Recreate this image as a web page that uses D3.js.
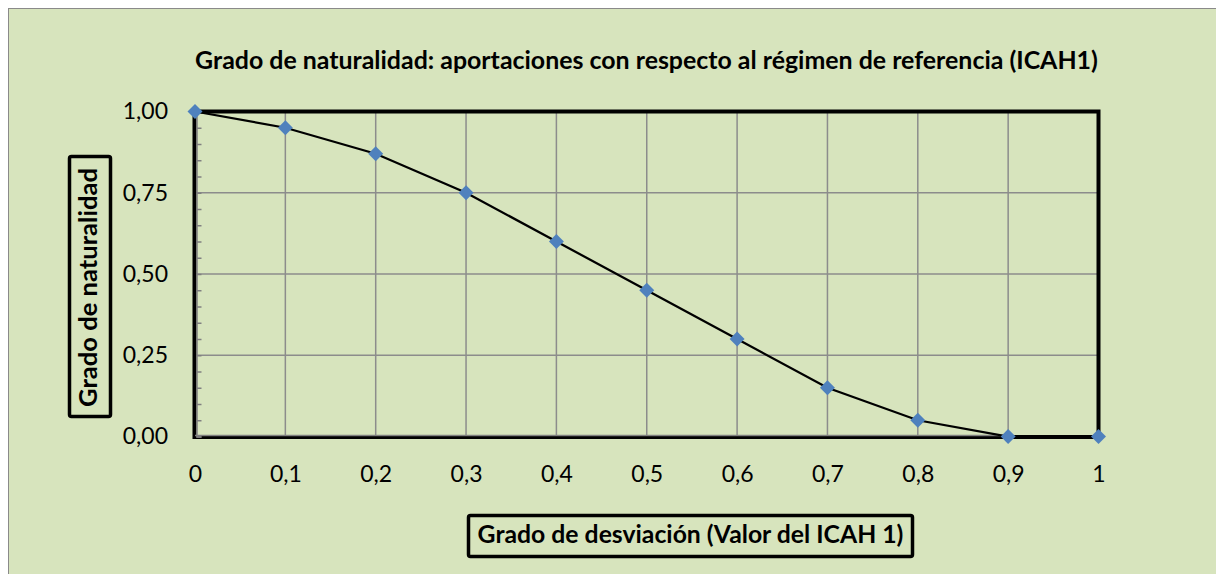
<!DOCTYPE html>
<html>
<head>
<meta charset="utf-8">
<script src="https://cdn.jsdelivr.net/npm/d3@7"></script>
<style>
  body { margin: 0; background: #fff; }
  svg { display: block; font-family: Lato, "Open Sans", sans-serif; }
  .grid line { stroke: #8c8c8c; stroke-width: 1.5; }
  .tick text { fill: #000; }
</style>
</head>
<body>
<svg class="chart"></svg>
<script>
var title = "Grado de naturalidad: aportaciones con respecto al régimen de referencia (ICAH1)";
var xTitle = "Grado de desviación (Valor del ICAH 1)";
var yTitle = "Grado de naturalidad";

var desviacion = [0, 0.1, 0.2, 0.3, 0.4, 0.5, 0.6, 0.7, 0.8, 0.9, 1];
var naturalidad = [1.00, 0.95, 0.87, 0.75, 0.60, 0.45, 0.30, 0.15, 0.05, 0, 0];
var xTicks = [0, 0.1, 0.2, 0.3, 0.4, 0.5, 0.6, 0.7, 0.8, 0.9, 1];
var yTicks = [0, 0.25, 0.5, 0.75, 1];
var yMinor = d3.range(0, 21).map(function(i) { return i * 0.05; });

var width = 1216, height = 574;
var font = "Lato, 'Open Sans', sans-serif";
var comma = function(s) { return s.replace(".", ","); };

var chart = d3.select(".chart").attr("width", width).attr("height", height);

// chart area
chart.append("rect")
    .attr("x", 8.5).attr("y", 8.5)
    .attr("width", width).attr("height", height)
    .attr("fill", "#d7e4bd").attr("stroke", "#8a8a8a").attr("stroke-width", 1);

var x = d3.scaleLinear().domain([0, 1]).range([195, 1098.5]);
var y = d3.scaleLinear().domain([0, 1]).range([436.5, 111.5]);

// fit text to a measured width by changing its font size
function fit(text, w) {
    var fs = parseFloat(text.attr("font-size"));
    var len = text.node().getComputedTextLength();
    text.attr("font-size", (fs * w / len).toFixed(2));
}

// title
chart.append("text")
    .attr("x", 646.5).attr("y", 69)
    .attr("text-anchor", "middle").attr("font-weight", "bold").attr("font-size", 19)
    .text(title)
    .call(fit, 903);

// grid
var grid = chart.append("g").attr("class", "grid");
grid.selectAll(".v")
    .data(xTicks.slice(1, -1))
    .enter().append("line")
    .attr("x1", x).attr("x2", x).attr("y1", y(0)).attr("y2", y(1));
grid.selectAll(".h")
    .data(yTicks.slice(1, -1))
    .enter().append("line")
    .attr("x1", x(0)).attr("x2", x(1)).attr("y1", y).attr("y2", y);

// plot border
chart.append("rect")
    .attr("x", x(0) - 0.5).attr("y", y(1))
    .attr("width", x(1) - x(0) + 0.5).attr("height", y(0) - y(1) + 0.5)
    .attr("fill", "none").attr("stroke", "#000").attr("stroke-width", 4);

// y axis: labels + inner minor ticks
var yAxis = chart.append("g")
    .attr("transform", "translate(" + x(0) + ",0)")
    .call(d3.axisLeft(y).tickValues(yTicks).tickSize(0).tickPadding(27)
        .tickFormat(function(d) { return comma(d3.format(".2f")(d)); }));
yAxis.select(".domain").remove();
yAxis.selectAll("text").attr("font-size", 23).attr("font-family", font);

var yMinorAxis = chart.append("g")
    .attr("transform", "translate(" + (x(0) + 1.5) + ",0)")
    .call(d3.axisRight(y).tickValues(yMinor).tickSize(5).tickFormat(""));
yMinorAxis.select(".domain").attr("stroke", "#808080").attr("stroke-width", 1.5);
yMinorAxis.selectAll(".tick line").attr("stroke", "#808080").attr("stroke-width", 1.5);

// x axis
var xAxis = chart.append("g")
    .attr("transform", "translate(0," + y(0) + ")")
    .call(d3.axisBottom(x).tickValues(xTicks).tickSize(0).tickPadding(29)
        .tickFormat(function(d) { return comma(String(d)); }));
xAxis.select(".domain").remove();
xAxis.selectAll("text").attr("font-size", 23).attr("font-family", font);

chart.append("line")
    .attr("x1", x(0)).attr("x2", x(0.9))
    .attr("y1", y(0) - 1).attr("y2", y(0) - 1)
    .attr("stroke", "#808080").attr("stroke-width", 1.5);

// series
var line = d3.line()
    .x(function(d, i) { return x(desviacion[i]); })
    .y(function(d) { return y(d); });

chart.append("path")
    .datum(naturalidad)
    .attr("d", line)
    .attr("fill", "none").attr("stroke", "#000").attr("stroke-width", 2.25);

chart.append("g").selectAll("path")
    .data(naturalidad)
    .enter().append("path")
    .attr("d", d3.symbol(d3.symbolSquare, 112))
    .attr("transform", function(d, i) { return "translate(" + x(desviacion[i]) + "," + y(d) + ") rotate(45)"; })
    .attr("fill", "#4f81bd");

// y title box
chart.append("rect")
    .attr("x", 69.5).attr("y", 156.5).attr("width", 41).attr("height", 260).attr("rx", 2)
    .attr("fill", "none").attr("stroke", "#000").attr("stroke-width", 3.5);
chart.append("text")
    .attr("transform", "translate(97,287.5) rotate(-90)")
    .attr("text-anchor", "middle").attr("font-weight", "bold").attr("font-size", 19)
    .text(yTitle)
    .call(fit, 239);

// x title box
chart.append("rect")
    .attr("x", 468.5).attr("y", 515.5).attr("width", 444).attr("height", 41).attr("rx", 2)
    .attr("fill", "none").attr("stroke", "#000").attr("stroke-width", 3.5);
chart.append("text")
    .attr("x", 690.5).attr("y", 543)
    .attr("text-anchor", "middle").attr("font-weight", "bold").attr("font-size", 19)
    .text(xTitle)
    .call(fit, 426);
</script>
</body>
</html>
